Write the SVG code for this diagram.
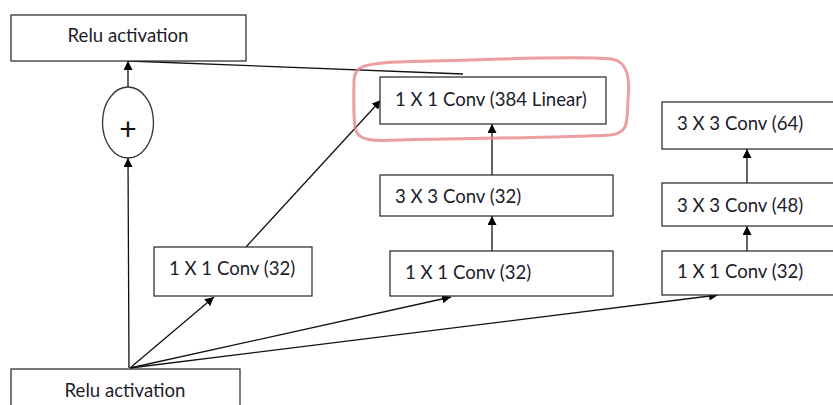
<svg xmlns="http://www.w3.org/2000/svg" width="833" height="405" viewBox="0 0 833 405">
<defs>
<marker id="ah" viewBox="0 0 10 10" refX="10" refY="5" markerWidth="9" markerHeight="9" markerUnits="userSpaceOnUse" orient="auto">
<path d="M0,0 L10,5 L0,10 Z" fill="#000"/>
</marker>
<filter id="soft" x="-5%" y="-10%" width="110%" height="120%"><feGaussianBlur stdDeviation="0.7"/></filter>
</defs>
<style>
.box{fill:#fff;stroke:#333;stroke-width:1.3}
.lbl{font-family:Lato,"Liberation Sans",sans-serif;font-size:18.6px;fill:#1c1c2a}
.c{stroke:#111;stroke-width:1.3;fill:none}
.ca{stroke:#111;stroke-width:1.3;fill:none;marker-end:url(#ah)}
</style>
<rect width="833" height="405" fill="#fff"/>
<g id="connectors">
<line class="c" x1="128" y1="61" x2="463" y2="74"/>
<line class="ca" x1="128" y1="87" x2="128" y2="61"/>
<line class="ca" x1="129" y1="368" x2="128" y2="158"/>
<line class="ca" x1="130" y1="368" x2="214" y2="297"/>
<line class="ca" x1="130" y1="368" x2="451" y2="297"/>
<line class="ca" x1="130" y1="368" x2="718" y2="295"/>
<line class="ca" x1="246" y1="247" x2="381" y2="100"/>
<line class="ca" x1="492" y1="175" x2="492" y2="124"/>
<line class="ca" x1="492" y1="251" x2="492" y2="216"/>
<line class="ca" x1="747" y1="183" x2="747" y2="149"/>
<line class="ca" x1="747" y1="251" x2="747" y2="226"/>
</g>
<g id="relu-top">
<rect class="box" x="11" y="15" width="235" height="46"/>
<text class="lbl" x="128" y="42" text-anchor="middle">Relu activation</text>
</g>
<g id="add">
<ellipse cx="128" cy="122.5" rx="25.5" ry="35.5" fill="#fff" stroke="#333" stroke-width="1.3"/>
<text x="128" y="140" text-anchor="middle" font-family="Lato,'Liberation Sans',sans-serif" font-size="30" fill="#111">+</text>
</g>
<g id="conv384">
<rect class="box" x="380" y="77" width="226" height="47"/>
<text class="lbl" x="395" y="106">1 X 1 Conv (384 Linear)</text>
</g>
<g id="conv3x3-32">
<rect class="box" x="380" y="175" width="233" height="41"/>
<text class="lbl" x="395" y="203">3 X 3 Conv (32)</text>
</g>
<g id="conv1x1-32-mid">
<rect class="box" x="390" y="251" width="223" height="45"/>
<text class="lbl" x="405" y="279">1 X 1 Conv (32)</text>
</g>
<g id="conv1x1-32-left">
<rect class="box" x="154" y="247" width="158" height="49"/>
<text class="lbl" x="169" y="275">1 X 1 Conv (32)</text>
</g>
<g id="conv3x3-64">
<rect class="box" x="662" y="102" width="180" height="47"/>
<text class="lbl" x="677" y="130">3 X 3 Conv (64)</text>
</g>
<g id="conv3x3-48">
<rect class="box" x="662" y="183" width="180" height="43"/>
<text class="lbl" x="677" y="212">3 X 3 Conv (48)</text>
</g>
<g id="conv1x1-32-right">
<rect class="box" x="662" y="251" width="180" height="44"/>
<text class="lbl" x="677" y="278">1 X 1 Conv (32)</text>
</g>
<g id="relu-bottom">
<rect class="box" x="11" y="369" width="229" height="50"/>
<text class="lbl" x="125" y="397" text-anchor="middle">Relu activation</text>
</g>
<g id="highlight">
<path d="M360 68 C375 60 420 62 470 60 C530 58 590 57 612 59 C628 62 630 78 628 100 C627 122 629 133 610 135 C560 138 470 138 400 140 C375 141 358 142 355 128 C353 112 354 90 354 80 C355 73 356 71 360 68 Z" fill="none" stroke="#e8868b" stroke-width="3" stroke-opacity="0.8" filter="url(#soft)"/>
</g>
</svg>
